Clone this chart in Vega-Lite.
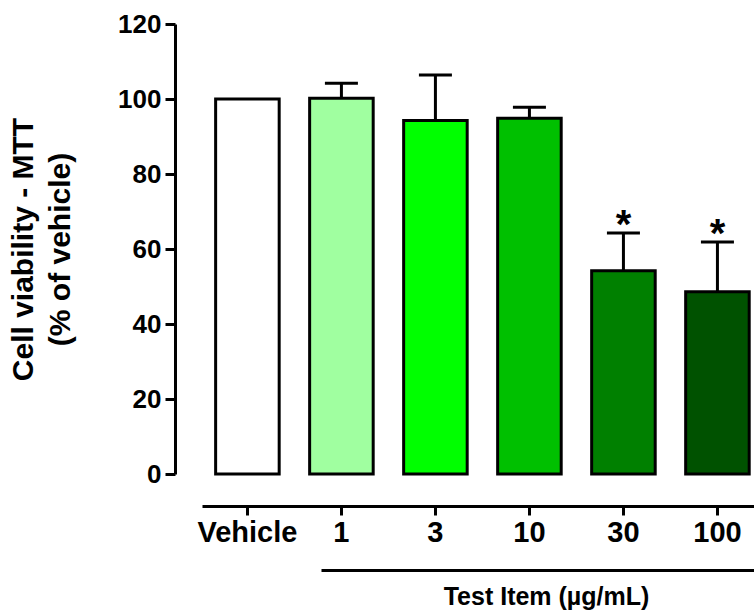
{
  "$schema": "https://vega.github.io/schema/vega-lite/v6.json",
  "width": 552,
  "height": 450,
  "autosize": {"type": "none"},
  "padding": {"left": 202, "top": 24, "right": 0, "bottom": 137},
  "background": "white",
  "config": {
    "view": {"stroke": null},
    "font": "Liberation Sans",
    "axis": {"grid": false, "domainColor": "black", "tickColor": "black", "labelColor": "black", "titleColor": "black", "labelFont": "Liberation Sans", "titleFont": "Liberation Sans"}
  },
  "data": {
    "values": [
      {"group": "Vehicle", "mean": 100, "upper": null, "sig": ""},
      {"group": "1", "mean": 100.2, "upper": 104.2, "sig": ""},
      {"group": "3", "mean": 94.3, "upper": 106.4, "sig": ""},
      {"group": "10", "mean": 94.9, "upper": 97.8, "sig": ""},
      {"group": "30", "mean": 54.2, "upper": 64.3, "sig": "*"},
      {"group": "100", "mean": 48.6, "upper": 61.9, "sig": "*"}
    ]
  },
  "layer": [
    {
      "encoding": {
        "x": {
          "field": "group", "type": "nominal",
          "sort": ["Vehicle", "1", "3", "10", "30", "100"],
          "scale": {"domain": ["Vehicle", "1", "3", "10", "30", "100"], "paddingInner": 0.324, "paddingOuter": 0.098, "align": 0.74},
          "axis": {"orient": "bottom", "offset": 32, "title": null, "labelAngle": 0, "labelFontSize": 29, "labelFontWeight": "bold", "labelPadding": 3, "tickSize": 9, "tickWidth": 3, "domainWidth": 3}
        }
      },
      "layer": [
        {
          "mark": {"type": "bar", "stroke": "black", "strokeWidth": 3},
          "encoding": {
            "y": {
              "field": "mean", "type": "quantitative",
              "title": ["Cell viability - MTT", "(% of vehicle)"],
              "scale": {"domain": [0, 120], "nice": false},
              "axis": {"offset": 27, "values": [0, 20, 40, 60, 80, 100, 120], "tickSize": 10, "tickWidth": 3, "domainWidth": 3, "labelFontSize": 26, "labelFontWeight": "bold", "labelPadding": 4, "titleFontSize": 30, "titleFontWeight": "bold", "titleLineHeight": 37, "titlePadding": 42}
            },
            "color": {
              "field": "group", "type": "nominal",
              "scale": {"domain": ["Vehicle", "1", "3", "10", "30", "100"], "range": ["#ffffff", "#a0ffa0", "#00ff00", "#00c000", "#008000", "#005200"]},
              "legend": null
            }
          }
        },
        {
          "transform": [{"filter": "datum.upper != null"}],
          "mark": {"type": "rule", "color": "black", "strokeWidth": 3},
          "encoding": {
            "y": {"field": "mean", "type": "quantitative", "title": ["Cell viability - MTT", "(% of vehicle)"]},
            "y2": {"field": "upper"}
          }
        },
        {
          "transform": [{"filter": "datum.upper != null"}],
          "mark": {"type": "tick", "color": "black", "size": 33, "thickness": 3, "opacity": 1},
          "encoding": {
            "y": {"field": "upper", "type": "quantitative", "title": ["Cell viability - MTT", "(% of vehicle)"]}
          }
        },
        {
          "transform": [{"filter": "datum.upper != null"}],
          "mark": {"type": "text", "fontSize": 40, "fontWeight": "bold", "baseline": "alphabetic", "dy": 5, "color": "black"},
          "encoding": {
            "y": {"field": "upper", "type": "quantitative", "title": ["Cell viability - MTT", "(% of vehicle)"]},
            "text": {"field": "sig"}
          }
        }
      ]
    },
    {
      "transform": [{"filter": "datum.group != 'Vehicle'"}],
      "mark": {"type": "point", "opacity": 0},
      "encoding": {
        "x": {
          "field": "group", "type": "nominal",
          "sort": ["1", "3", "10", "30", "100"],
          "scale": {"domain": ["1", "3", "10", "30", "100"], "range": [119, 552]},
          "axis": {"orient": "bottom", "offset": 96, "labels": false, "ticks": false, "domainWidth": 3, "title": "Test Item (µg/mL)", "titleFontSize": 25, "titleFontWeight": "bold", "titlePadding": 14, "titleX": 344}
        }
      }
    }
  ],
  "resolve": {"scale": {"x": "independent"}, "axis": {"x": "independent"}}
}
